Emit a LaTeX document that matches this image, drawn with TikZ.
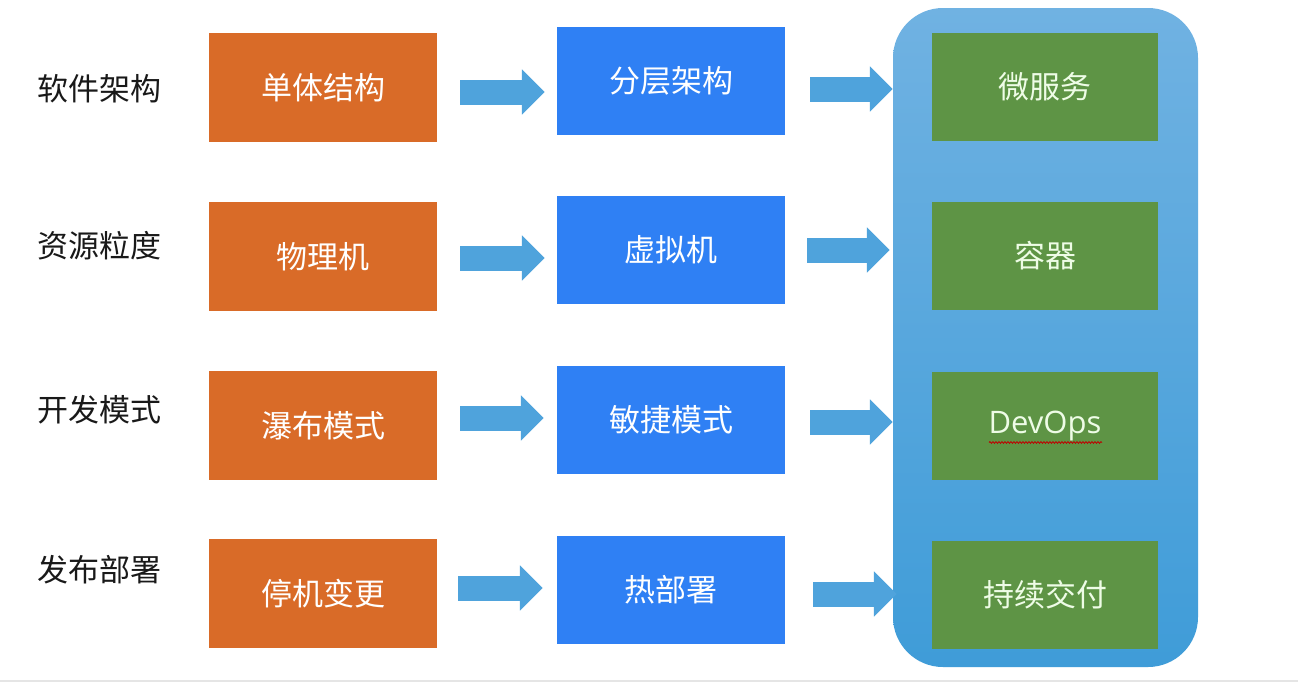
\documentclass[tikz,border=0pt]{standalone}
\usepackage{fontspec}
\setmainfont{Noto Sans CJK SC}
\newfontfamily\latinfont{Open Sans}
\usetikzlibrary{arrows.meta,calc,decorations.pathmorphing}
\definecolor{orangebox}{HTML}{D96B28}
\definecolor{bluebox}{HTML}{2F80F4}
\definecolor{greenbox}{HTML}{5E9445}
\definecolor{arrowblue}{HTML}{4FA3DC}
\definecolor{paneltop}{HTML}{70B2E2}
\definecolor{panelbot}{HTML}{3F9CD8}
\definecolor{greentext}{HTML}{EEFCE6}
\tikzset{
  box/.style={rectangle, minimum width=228pt, minimum height=109pt, inner sep=0pt,
    text=white, font=\fontsize{31}{37}\selectfont},
  obox/.style={box, fill=orangebox},
  bbox/.style={box, fill=bluebox, minimum height=108pt},
  gbox/.style={box, fill=greenbox, minimum width=226pt, minimum height=108pt, text=greentext},
  rowlabel/.style={font=\fontsize{31}{37}\selectfont, text=black!90, inner sep=0pt},
  blockarrow/.style={draw=arrowblue, line width=25pt, -{Triangle[length=23pt,width=44pt]}},
}
\begin{document}
\begin{tikzpicture}[x=1pt,y=-1pt]
\useasboundingbox (0,0) rectangle (1298,686);
\fill[white] (0,0) rectangle (1298,686);
\draw[black!10, line width=1.5pt] (0,681) -- (1298,681);

% panel
\node[rectangle, rounded corners=50pt, minimum width=305pt, minimum height=659pt,
  top color=paneltop, bottom color=panelbot, inner sep=0pt] (panel) at (1045.5,337.5) {};

% row labels
\node[rowlabel] (l1) at (99,89) {软件架构};
\node[rowlabel] (l2) at (99,246) {资源粒度};
\node[rowlabel] (l3) at (99,410) {开发模式};
\node[rowlabel] (l4) at (99,570) {发布部署};

% orange
\node[obox] (o1) at (323,87.5) {单体结构};
\node[obox] (o2) at (323,256.5) {物理机};
\node[obox] (o3) at (323,425.5) {瀑布模式};
\node[obox] (o4) at (323,593.5) {停机变更};

% blue
\node[bbox] (b1) at (671,80.5) {分层架构};
\node[bbox] (b2) at (671,250) {虚拟机};
\node[bbox] (b3) at (671,419.5) {敏捷模式};
\node[bbox] (b4) at (671,590) {热部署};

% green
\node[gbox] (g1) at (1045,87) {微服务};
\node[gbox] (g2) at (1045,255.5) {容器};
\node[gbox] (g3) at (1045,425.5) {\raisebox{-4pt}{\latinfont DevOps}};
\node[gbox] (g4) at (1045,594.5) {持续交付};

\draw[red!75!black, line width=0.8pt, decorate, decoration={snake, amplitude=0.9pt, segment length=3pt}]
  ($(g3.center)+(-56,17)$) -- ($(g3.center)+(57,17)$);

% arrows column 1
\draw[blockarrow] ($(o1.east)+(23,4.5)$) -- ($(b1.west)+(-12,11.5)$);
\draw[blockarrow] ($(o2.east)+(23,1.5)$) -- ($(b2.west)+(-12,8)$);
\draw[blockarrow] ($(o3.east)+(23,-7.5)$) -- ($(b3.west)+(-13,-1.5)$);
\draw[blockarrow] ($(o4.east)+(21,-5.5)$) -- ($(b4.west)+(-14,-2)$);

% arrows column 2
\draw[blockarrow] ($(b1.east)+(25,8.5)$) -- ($(panel.west |- g1.west)+(0,2)$);
\draw[blockarrow] ($(b2.east)+(22,0)$) -- ($(panel.west |- g2.west)+(-3,-5.5)$);
\draw[blockarrow] ($(b3.east)+(25,2.5)$) -- ($(panel.west |- g3.west)+(0,-3.5)$);
\draw[blockarrow] ($(b4.east)+(28,4)$) -- ($(panel.west |- g4.west)+(4,-0.5)$);
\end{tikzpicture}
\end{document}
